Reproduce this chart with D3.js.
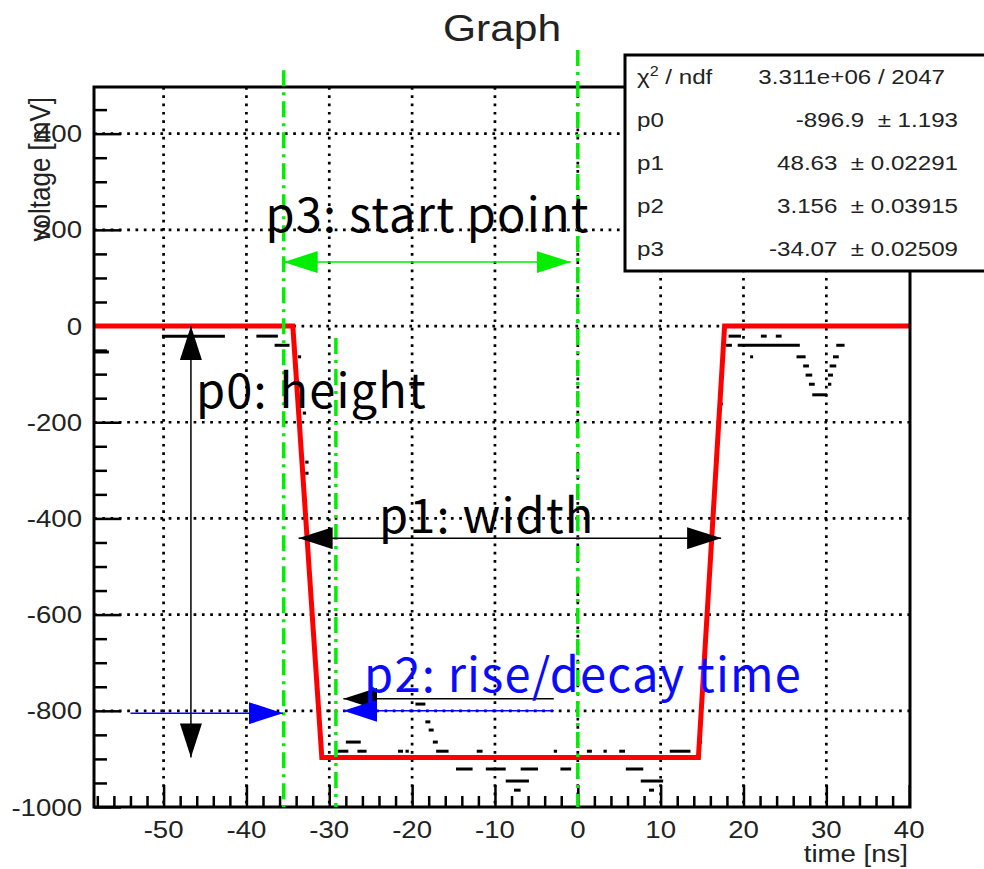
<!DOCTYPE html>
<html>
<head>
<meta charset="utf-8">
<script src="https://cdn.jsdelivr.net/npm/d3@7"></script>
<style>
body { margin: 0; background: #fff; }
svg { display: block; }
.root-text { font-family: "Liberation Sans", Arial, sans-serif; fill: #222; }
.note { font-family: "Noto Sans CJK JP", "Noto Sans", sans-serif; letter-spacing: 1.2px; }
</style>
</head>
<body>
<svg width="984" height="869"></svg>
<script>
const xTicks = [-50, -40, -30, -20, -10, 0, 10, 20, 30, 40];
const yTicks = [-1000, -800, -600, -400, -200, 0, 200, 400];
const xDomain = [-58.4, 40.1];
const yDomain = [-1000, 497];

// corners of the fitted pulse (red)
const fitX = [-58.4, -34.4, -30.9, 14.56, 17.72, 40.1];
const fitY = [0, 0, -896.9, -896.9, 0, 0];

// waveform samples, seen as short runs: [xStart, xEnd, voltage]
const waveRuns = [
    [-58.3, -56.6, -54], [-50.2, -42.6, -21], [-38.8, -36.2, -21], [-36.6, -34.8, -40],
    [-34.4, -34.0, -44], [-33.8, -33.4, -64], [-33.2, -32.8, -181], [-32.9, -32.5, -283],
    [-32.9, -32.5, -306],
    [-29.0, -27.7, -884], [-28.0, -26.2, -865], [-26.6, -25.5, -884], [-21.7, -21.1, -884],
    [-20.8, -20.4, -884], [-19.6, -18.4, -786], [-18.4, -17.8, -823], [-18.0, -17.4, -840],
    [-17.5, -16.9, -865], [-17.1, -15.6, -884], [-14.7, -12.7, -921], [-12.2, -11.5, -884],
    [-11.1, -8.7, -921], [-8.7, -5.9, -946], [-7.7, -6.9, -965], [-6.9, -4.8, -921],
    [-2.9, -2.5, -884], [-2.1, -0.8, -921], [1.1, 1.7, -884], [3.1, 3.5, -884],
    [5.0, 5.7, -884], [5.8, 7.9, -921], [7.6, 10.3, -946], [8.6, 9.2, -965],
    [11.1, 13.6, -884], [14.6, 15.0, -823], [14.6, 15.0, -840], [14.6, 15.0, -865],
    [17.1, 17.5, -162],
    [18.2, 19.7, -21], [22.1, 22.8, -21], [23.9, 24.6, -21], [17.9, 18.6, -40],
    [19.3, 26.8, -40], [31.2, 32.2, -40], [20.8, 21.1, -64], [26.4, 27.5, -64],
    [30.8, 31.5, -64], [27.2, 27.9, -83], [30.4, 31.2, -83], [27.5, 28.3, -102],
    [30.2, 30.8, -102], [27.9, 28.6, -121], [30.2, 30.6, -121], [28.3, 30.1, -143]
];

const parNames = ["p0", "p1", "p2", "p3"];
const parValues = ["-896.9", "48.63", "3.156", "-34.07"];
const parErrors = ["1.193", "0.02291", "0.03915", "0.02509"];
const chi2Text = "3.311e+06 / 2047";

// green dash-dot guides: [x, top]
const guides = [[-35.5, 532], [-29.2, -25], [0, 574]];

// arrows: [x1, y1, x2, y2, colour, double headed]
const arrows = [
    [-46.7, 0, -46.7, -897, "black", true],
    [-33.7, -441, 17.3, -441, "black", true],
    [-35.5, 133, -0.85, 133, "green", true],
    [-54, -805, -35.6, -805, "blue", false],
    [-2.9, -775, -28.3, -775, "black", false],
    [-2.9, -800, -28.3, -800, "blue", false]
];

// labels: [text, x, y, colour]
const notes = [
    ["p3: start point", -37.7, 195, "#000"],
    ["p0: height", -46.1, -170, "#000"],
    ["p1: width", -24.0, -430, "#000"],
    ["p2: rise/decay time", -25.8, -761, "#0a0aff"]
];

const colors = { black: "#000", blue: "#0000ff", green: "#00ee00" };

const svg = d3.select("svg");
const frame = { left: 94, right: 910, top: 87, bottom: 807 };

const x = d3.scaleLinear().domain(xDomain).range([frame.left, frame.right]);
const y = d3.scaleLinear().domain(yDomain).range([frame.bottom, frame.top]);

const defs = svg.append("defs");
Object.keys(colors).forEach(name => {
    defs.append("marker")
        .attr("id", "head-" + name)
        .attr("viewBox", "0 0 34 22")
        .attr("refX", 34)
        .attr("refY", 11)
        .attr("markerUnits", "userSpaceOnUse")
        .attr("markerWidth", 34)
        .attr("markerHeight", 22)
        .attr("orient", "auto-start-reverse")
        .append("path")
        .attr("d", "M0,0L34,11L0,22Z")
        .attr("fill", colors[name]);
});

// ROOT text looks a bit wider than tall in the picture
function rootText(sel, px, py, size, anchor, text) {
    return sel.append("text")
        .attr("class", "root-text")
        .attr("transform", `translate(${px},${py}) scale(1.15,1)`)
        .attr("font-size", size)
        .attr("text-anchor", anchor)
        .text(text);
}

// grid
const grid = svg.append("g")
    .attr("stroke", "#000")
    .attr("stroke-width", 2.7)
    .attr("stroke-dasharray", "2.7,5.6");
grid.selectAll(".gx")
    .data(xTicks.filter(d => d < 40))
    .enter()
    .append("line")
    .attr("x1", d => x(d))
    .attr("x2", d => x(d))
    .attr("y1", frame.top)
    .attr("y2", frame.bottom);
grid.selectAll(".gy")
    .data(yTicks.filter(d => d > -1000))
    .enter()
    .append("line")
    .attr("x1", frame.left)
    .attr("x2", frame.right)
    .attr("y1", d => y(d))
    .attr("y2", d => y(d));

// axes, ticks inside the frame
const xAxis = d3.axisBottom(x).tickValues(xTicks).tickSize(22).tickFormat("");
const xMinor = d3.axisBottom(x).tickValues(d3.range(-58, 41, 2).filter(d => d % 10 !== 0)).tickSize(11).tickFormat("");
const yAxis = d3.axisLeft(y).tickValues(yTicks).tickSize(27).tickFormat("");
const yMinor = d3.axisLeft(y).tickValues(d3.range(-950, 497, 50).filter(d => d % 200 !== 0)).tickSize(13).tickFormat("");

[xAxis, xMinor].forEach(a => {
    const g = svg.append("g")
        .attr("transform", `translate(0,${frame.bottom}) scale(1,-1)`)
        .call(a);
    g.select(".domain").remove();
    g.selectAll("line").attr("stroke", "#000").attr("stroke-width", 2.5);
});
[yAxis, yMinor].forEach(a => {
    const g = svg.append("g")
        .attr("transform", `translate(${frame.left},0) scale(-1,1)`)
        .call(a);
    g.select(".domain").remove();
    g.selectAll("line").attr("stroke", "#000").attr("stroke-width", 2.5);
});

xTicks.forEach(d => rootText(svg, x(d), 838, 24, "middle", d));
yTicks.forEach(d => rootText(svg, 82, y(d) + 8.5, 24, "end", d));

rootText(svg, frame.right - 2, 862, 24, "end", "time [ns]");
svg.append("text")
    .attr("class", "root-text")
    .attr("transform", `translate(50,97) rotate(-90) scale(1,1.15)`)
    .attr("font-size", 26)
    .attr("text-anchor", "end")
    .text("voltage [mV]");

rootText(svg, 502, 41, 37, "middle", "Graph");

// waveform
svg.append("g")
    .selectAll("line")
    .data(waveRuns)
    .enter()
    .append("line")
    .attr("x1", d => x(d[0]))
    .attr("x2", d => Math.max(x(d[1]), x(d[0]) + 3))
    .attr("y1", d => y(d[2]))
    .attr("y2", d => y(d[2]))
    .attr("stroke", "#000")
    .attr("stroke-width", 3);

// fit
svg.append("path")
    .datum(fitX.map((d, i) => [d, fitY[i]]))
    .attr("d", d3.line().x(d => x(d[0])).y(d => y(d[1])))
    .attr("fill", "none")
    .attr("stroke", "#ff0000")
    .attr("stroke-width", 5);

// frame
svg.append("rect")
    .attr("x", frame.left)
    .attr("y", frame.top)
    .attr("width", frame.right - frame.left)
    .attr("height", frame.bottom - frame.top)
    .attr("fill", "none")
    .attr("stroke", "#000")
    .attr("stroke-width", 3);

// green guides
svg.selectAll(".guide")
    .data(guides)
    .enter()
    .append("line")
    .attr("class", "guide")
    .attr("x1", d => x(d[0]))
    .attr("x2", d => x(d[0]))
    .attr("y1", d => y(d[1]))
    .attr("y2", y(-1000))
    .attr("stroke", colors.green)
    .attr("stroke-width", 3.5)
    .attr("stroke-dasharray", "16,6,3,6");

// arrows
svg.selectAll(".arrow")
    .data(arrows)
    .enter()
    .append("line")
    .attr("class", "arrow")
    .attr("x1", d => x(d[0]))
    .attr("y1", d => y(d[1]))
    .attr("x2", d => x(d[2]))
    .attr("y2", d => y(d[3]))
    .attr("stroke", d => colors[d[4]])
    .attr("stroke-width", 1.5)
    .attr("marker-end", d => `url(#head-${d[4]})`)
    .attr("marker-start", d => d[5] ? `url(#head-${d[4]})` : null);

// annotation labels
svg.selectAll(".note")
    .data(notes)
    .enter()
    .append("text")
    .attr("class", "note")
    .attr("x", d => x(d[1]))
    .attr("y", d => y(d[2]))
    .attr("font-size", 47)
    .attr("fill", d => d[3])
    .text(d => d[0]);

// stats box
const box = svg.append("g");
box.append("rect")
    .attr("x", 625)
    .attr("y", 55)
    .attr("width", 380)
    .attr("height", 216)
    .attr("fill", "#fff")
    .attr("stroke", "#000")
    .attr("stroke-width", 3);

const rowY = i => 55 + 43 * (i + 0.5) + 7.5;
const chiLabel = rootText(box, 637, rowY(0), 21, "start", "χ");
chiLabel.append("tspan").attr("dy", -8).attr("font-size", 14).text("2");
chiLabel.append("tspan").attr("dy", 8).text(" / ndf");
rootText(box, 945, rowY(0), 21, "end", chi2Text);

parNames.forEach((p, i) => {
    rootText(box, 637, rowY(i + 1), 21, "start", p);
    rootText(box, 958, rowY(i + 1), 21, "end", `${parValues[i]}  ± ${parErrors[i]}`)
        .attr("xml:space", "preserve")
        .style("white-space", "pre");
});
</script>
</body>
</html>
